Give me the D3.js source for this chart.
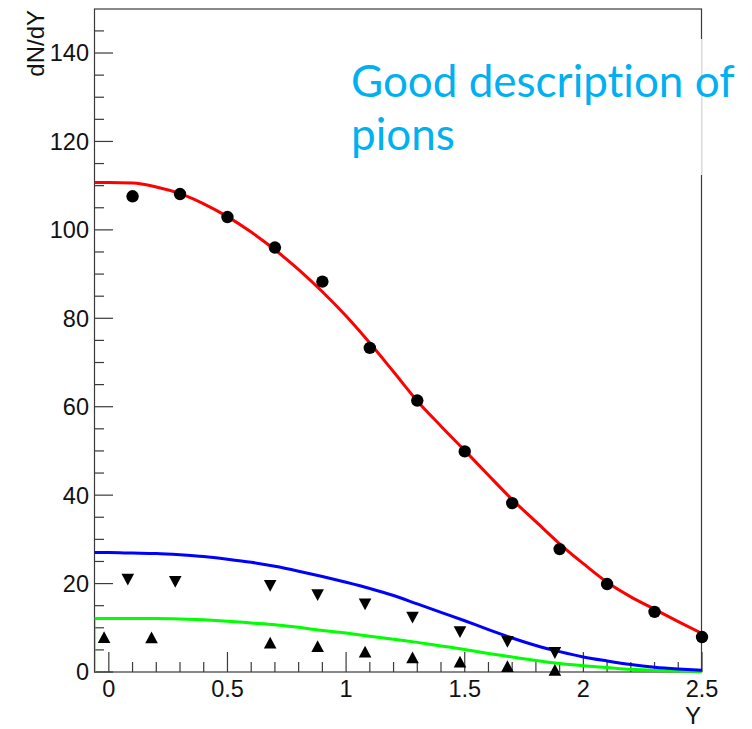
<!DOCTYPE html>
<html>
<head>
<meta charset="utf-8">
<script src="https://cdn.jsdelivr.net/npm/d3@7"></script>
<style>
  html, body { margin: 0; padding: 0; background: #fff; }
  svg { display: block; }
</style>
</head>
<body>
<svg id="chart" width="752" height="729"></svg>
<script>
// ---------------- DATA ----------------
const pionX = [0.1, 0.3, 0.5, 0.7, 0.9, 1.1, 1.3, 1.5, 1.7, 1.9, 2.1, 2.3, 2.5];
const pionY = [107.6, 108.1, 102.9, 96.0, 88.3, 73.3, 61.4, 49.9, 38.2, 27.8, 19.9, 13.6, 7.9];

const downTriX = [0.08, 0.28, 0.68, 0.88, 1.08, 1.28, 1.48, 1.68, 1.88];
const downTriY = [20.9, 20.4, 19.5, 17.4, 15.3, 12.3, 9.0, 6.8, 4.3];

const upTriX = [-0.02, 0.18, 0.68, 0.88, 1.08, 1.28, 1.48, 1.68, 1.88];
const upTriY = [7.9, 7.85, 6.65, 5.85, 4.6, 3.3, 2.35, 1.35, 0.5];

const curveX = [-0.06, 0.0, 0.1, 0.2, 0.3, 0.4, 0.5, 0.6, 0.7, 0.8, 0.9, 1.0, 1.1, 1.2, 1.3,
                1.4, 1.5, 1.6, 1.7, 1.8, 1.9, 2.0, 2.1, 2.2, 2.3, 2.4, 2.5];
const redCurve = [110.7, 110.7, 110.6, 109.7, 108.2, 105.9, 103.0, 99.5, 95.5, 91.0, 86.0, 80.5, 74.4,
                  67.9, 61.3, 55.6, 50.1, 44.5, 39.0, 34.0, 29.0, 24.5, 20.3, 17.0, 14.2, 11.4, 8.7];
const blueCurve = [27.0, 27.0, 26.9, 26.8, 26.5, 26.1, 25.5, 24.8, 23.9, 22.8, 21.6, 20.3, 18.9,
                   17.3, 15.4, 13.5, 11.6, 9.6, 7.7, 6.0, 4.6, 3.4, 2.5, 1.7, 1.1, 0.7, 0.4];
const greenCurve = [12.1, 12.1, 12.1, 12.1, 12.0, 11.8, 11.5, 11.1, 10.7, 10.1, 9.4, 8.8, 8.1,
                    7.4, 6.7, 5.9, 5.1, 4.2, 3.4, 2.6, 1.9, 1.4, 1.0, 0.6, 0.35, 0.2, 0.1];

const xTickValues = [0, 0.5, 1, 1.5, 2, 2.5];
const xTickLabels = ["0", "0.5", "1", "1.5", "2", "2.5"];
const yTickValues = [0, 20, 40, 60, 80, 100, 120, 140];
const yTickLabels = ["0", "20", "40", "60", "80", "100", "120", "140"];

const xTitle = "Y";
const yTitle = "dN/dY";
const noteLines = ["Good description of", "pions"];

// ---------------- LAYOUT ----------------
const svg = d3.select("#chart");
const padL = 94, padR = 702, padT = 8.5, padB = 672;

const x = d3.scaleLinear().domain([-0.0625, 2.5]).range([padL, padR]);
const y = d3.scaleLinear().domain([0, 150]).range([padB, padT + 0.3]);

const axisColor = "#3a3a3a";
const tickFont = "'Liberation Sans', Arial, Helvetica, sans-serif";

// frame
svg.append("rect")
  .attr("x", padL + 0.5).attr("y", padT + 0.5)
  .attr("width", padR - padL - 1).attr("height", padB - padT - 0.5)
  .attr("fill", "none").attr("stroke", axisColor).attr("stroke-width", 1.2);

// Y ticks (inside, pointing right)
const yMinor = d3.range(5, 150, 5).filter(v => v % 20 !== 0);
const yAxisG = svg.append("g");
yAxisG.selectAll("line.maj").data(yTickValues).join("line")
  .attr("x1", padL).attr("x2", padL + 19)
  .attr("y1", d => y(d)).attr("y2", d => y(d))
  .attr("stroke", axisColor).attr("stroke-width", 1.2);
yAxisG.selectAll("line.min").data(yMinor).join("line")
  .attr("x1", padL).attr("x2", padL + 10)
  .attr("y1", d => y(d)).attr("y2", d => y(d))
  .attr("stroke", axisColor).attr("stroke-width", 1.2);
yAxisG.selectAll("text").data(yTickValues).join("text")
  .attr("x", padL - 5).attr("y", d => y(d))
  .attr("dy", "0.36em")
  .attr("text-anchor", "end")
  .style("font-family", tickFont).style("font-size", "23.5px").attr("fill", "#111")
  .text((d, i) => yTickLabels[i]);

// X ticks (inside, pointing up)
const xMinor = d3.range(1, 25).map(v => v / 10).filter(v => Math.abs(v * 2 - Math.round(v * 2)) > 1e-6);
const xAxisG = svg.append("g");
xAxisG.selectAll("line.maj").data(xTickValues).join("line")
  .attr("x1", d => x(d)).attr("x2", d => x(d))
  .attr("y1", padB).attr("y2", padB - 20)
  .attr("stroke", axisColor).attr("stroke-width", 1.2);
xAxisG.selectAll("line.min").data(xMinor).join("line")
  .attr("x1", d => x(d)).attr("x2", d => x(d))
  .attr("y1", padB).attr("y2", padB - 10)
  .attr("stroke", axisColor).attr("stroke-width", 1.2);
xAxisG.selectAll("text").data(xTickValues).join("text")
  .attr("x", d => x(d)).attr("y", padB + 25)
  .attr("text-anchor", "middle")
  .style("font-family", tickFont).style("font-size", "23.5px").attr("fill", "#111")
  .text((d, i) => xTickLabels[i]);

// axis titles
svg.append("text")
  .attr("x", padR - 1).attr("y", 724)
  .attr("text-anchor", "end")
  .style("font-family", tickFont).style("font-size", "24px").attr("fill", "#111")
  .text(xTitle);
svg.append("text")
  .attr("transform", `translate(44,10) rotate(-90)`)
  .attr("text-anchor", "end")
  .style("font-family", tickFont).style("font-size", "24px").attr("fill", "#111")
  .text(yTitle);

// curves
const line = d3.line().x(d => x(d[0])).y(d => y(d[1])).curve(d3.curveMonotoneX);
function drawCurve(vals, color) {
  svg.append("path")
    .datum(curveX.map((cx, i) => [cx, vals[i]]))
    .attr("d", line)
    .attr("fill", "none").attr("stroke", color).attr("stroke-width", 3)
    .attr("stroke-linejoin", "round");
}
// green dotted edge segment at left border
svg.append("line")
  .attr("x1", x(curveX[0]) + 1).attr("x2", x(curveX[0]) + 1)
  .attr("y1", y(greenCurve[0])).attr("y2", y(0))
  .attr("stroke", "#00ff00").attr("stroke-width", 1).attr("stroke-dasharray", "1,1");
drawCurve(greenCurve, "#00ff00");
drawCurve(blueCurve, "#0000ff");
drawCurve(redCurve, "#ff0000");

// markers
svg.append("g").selectAll("circle").data(pionX).join("circle")
  .attr("cx", d => x(d)).attr("cy", (d, i) => y(pionY[i]))
  .attr("r", 6.2).attr("fill", "#000");

const tw = 6.3, th = 5.9;
svg.append("g").selectAll("path").data(downTriX).join("path")
  .attr("d", (d, i) => {
    const cx = x(d), cy = y(downTriY[i]);
    return `M${cx - tw},${cy - th}L${cx + tw},${cy - th}L${cx},${cy + th}Z`;
  })
  .attr("fill", "#000");
svg.append("g").selectAll("path").data(upTriX).join("path")
  .attr("d", (d, i) => {
    const cx = x(d), cy = y(upTriY[i]);
    return `M${cx - tw},${cy + th}L${cx + tw},${cy + th}L${cx},${cy - th}Z`;
  })
  .attr("fill", "#000");

// annotation box (covers part of the right border)
svg.append("rect")
  .attr("x", 340).attr("y", 39).attr("width", padR - 340).attr("height", 136)
  .attr("fill", "#fff");
svg.append("line")
  .attr("x1", padR - 0.5).attr("x2", padR - 0.5).attr("y1", 39).attr("y2", 175)
  .attr("stroke", "#dcdcdc").attr("stroke-width", 1);
svg.append("g").selectAll("text").data(noteLines).join("text")
  .attr("x", 351).attr("y", (d, i) => 97 + i * 53)
  .style("font-family", "Lato, 'Open Sans', sans-serif").style("font-size", "44px")
  .style("font-variant-ligatures", "none")
  .attr("fill", "#00b0f0")
  .text(d => d);
</script>
</body>
</html>
